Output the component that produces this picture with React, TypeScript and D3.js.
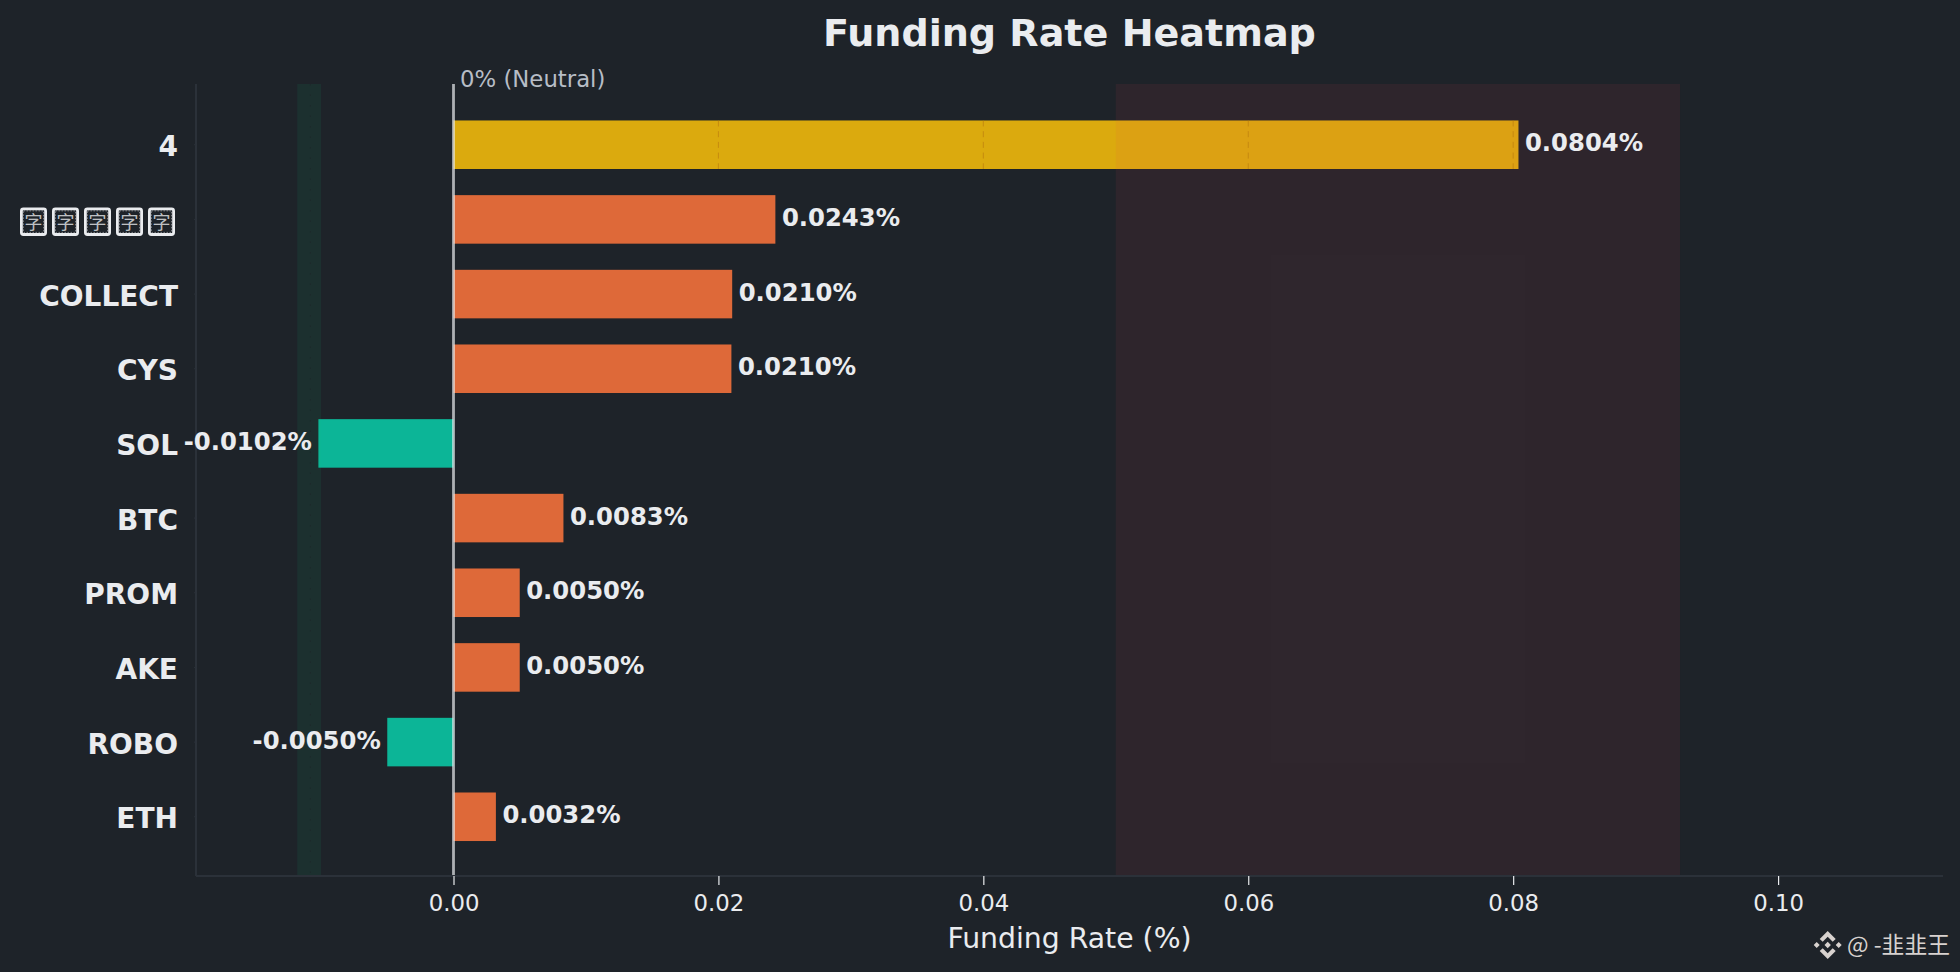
import { useEffect, useRef } from 'react';
import * as d3 from 'd3';

const symbols = ['4', '字字字字字', 'COLLECT', 'CYS', 'SOL', 'BTC', 'PROM', 'AKE', 'ROBO', 'ETH'];
const rates = [0.0804, 0.0243, 0.02104, 0.02098, -0.0102, 0.0083, 0.005, 0.005, -0.005, 0.0032];
const rateLabels = ['0.0804%', '0.0243%', '0.0210%', '0.0210%', '-0.0102%', '0.0083%', '0.0050%', '0.0050%', '-0.0050%', '0.0032%'];
const xTicks = [0, 0.02, 0.04, 0.06, 0.08, 0.1];
const gridOnBar = [0.02, 0.04, 0.06, 0.08];
const negativeBand = [-0.0118, -0.01];
const positiveBand = [0.05, 0.0926];
const negativeBandMark = -0.0108;
const xDomain = [-0.01944, 0.11245];

const WIDTH = 1960;
const HEIGHT = 972;
const BG = '#1e2329';
const TEXT = '#eaecef';
const SPINE = '#2b3139';
const FONT = '"DejaVu Sans", sans-serif';

const barColor = (v: number) => {
	if (v >= 0.05) return '#f0b90b';
	return v >= 0 ? '#f3713b' : '#0ac5a3';
};

export default function App() {
	const svgRef = useRef<SVGSVGElement>(null);

	useEffect(() => {
		if (!svgRef.current) return;

		const root = d3.select(svgRef.current);
		root.selectAll('*').remove();

		const margin = { top: 84, right: 17, bottom: 96, left: 196 };
		const right = WIDTH - margin.right;
		const bottom = HEIGHT - margin.bottom;

		root.append('rect').attr('width', WIDTH).attr('height', HEIGHT).attr('fill', BG);

		const x = d3.scaleLinear().domain(xDomain).range([margin.left, right]);
		const y = d3
			.scaleBand<string>()
			.domain(symbols)
			.range([margin.top + 1, bottom + 0.5])
			.paddingInner(0.35)
			.paddingOuter(0.475);

		// Bars sit under the threshold bands
		root
			.append('g')
			.selectAll('rect')
			.data(rates)
			.enter()
			.append('rect')
			.attr('x', (d) => x(Math.min(0, d)))
			.attr('width', (d) => Math.abs(x(d) - x(0)))
			.attr('y', (_, i) => y(symbols[i]) as number)
			.attr('height', y.bandwidth())
			.attr('fill', barColor)
			.attr('fill-opacity', 0.9);

		// Threshold bands
		[
			{ range: negativeBand, color: '#0ecb81' },
			{ range: positiveBand, color: '#f6465d' },
		].forEach(({ range, color }) => {
			root
				.append('rect')
				.attr('x', x(range[0]))
				.attr('width', x(range[1]) - x(range[0]))
				.attr('y', margin.top)
				.attr('height', bottom - margin.top)
				.attr('fill', color)
				.attr('fill-opacity', 0.08);
		});

		// Grid only shows on the top bar
		root
			.append('g')
			.selectAll('line')
			.data(gridOnBar)
			.enter()
			.append('line')
			.attr('x1', (d) => x(d))
			.attr('x2', (d) => x(d))
			.attr('y1', y(symbols[0]) as number)
			.attr('y2', (y(symbols[0]) as number) + y.bandwidth())
			.attr('stroke', '#b8780f')
			.attr('stroke-opacity', 0.6)
			.attr('stroke-width', 1)
			.attr('stroke-dasharray', '6,4.7');

		root
			.append('line')
			.attr('x1', x(negativeBandMark))
			.attr('x2', x(negativeBandMark))
			.attr('y1', margin.top)
			.attr('y2', bottom)
			.attr('stroke', BG)
			.attr('stroke-opacity', 0.5)
			.attr('stroke-width', 1)
			.attr('stroke-dasharray', '1.5,9');

		// Zero line
		root
			.append('line')
			.attr('x1', x(0))
			.attr('x2', x(0))
			.attr('y1', margin.top)
			.attr('y2', bottom)
			.attr('stroke', TEXT)
			.attr('stroke-opacity', 0.7)
			.attr('stroke-width', 2.8);

		root
			.append('text')
			.attr('x', x(0) + 6.5)
			.attr('y', 87)
			.attr('font-family', FONT)
			.attr('font-size', 22.8)
			.attr('fill', '#b7bdc6')
			.text('0% (Neutral)');

		// Axes
		const xAxis = root
			.append('g')
			.attr('transform', `translate(0,${bottom})`)
			.call(
				d3
					.axisBottom(x)
					.tickValues(xTicks)
					.tickSize(9)
					.tickPadding(10)
					.tickFormat((d) => d3.format('.2f')(d as number))
			);
		xAxis.select('.domain').attr('stroke', SPINE).attr('stroke-width', 2).attr('d', `M${margin.left},0H${right}`);
		xAxis.selectAll('.tick line').attr('stroke', TEXT).attr('stroke-width', 1.2);
		xAxis.selectAll('text').attr('font-family', FONT).attr('font-size', 22.8).attr('fill', TEXT);

		const yAxis = root
			.append('g')
			.attr('transform', `translate(${margin.left},0)`)
			.call(d3.axisLeft(y).tickSize(2).tickPadding(16));
		yAxis.select('.domain').attr('stroke', SPINE).attr('stroke-width', 2).attr('d', `M0,${margin.top}V${bottom}`);
		yAxis.selectAll('.tick line').attr('stroke', SPINE);
		yAxis
			.selectAll('text')
			.attr('y', 2.5)
			.attr('font-family', FONT)
			.attr('font-size', 28)
			.attr('font-weight', 700)
			.attr('fill', TEXT);

		// The second symbol came out as missing-glyph boxes in the original
		const tofu = yAxis.selectAll<SVGGElement, string>('.tick').filter((d) => d === symbols[1]);
		tofu.select('text').remove();
		d3.range(5).forEach((i) => {
			const bx = -176 + i * 32;
			tofu
				.append('rect')
				.attr('x', bx + 1.4)
				.attr('y', -10.5)
				.attr('width', 24.2)
				.attr('height', 25.6)
				.attr('rx', 2)
				.attr('fill', 'none')
				.attr('stroke', TEXT)
				.attr('stroke-width', 2.8);
			tofu
				.append('rect')
				.attr('x', bx + 3.5)
				.attr('y', -8.5)
				.attr('width', 20)
				.attr('height', 21.5)
				.attr('fill', 'none')
				.attr('stroke', TEXT)
				.attr('stroke-opacity', 0.45)
				.attr('stroke-width', 1)
				.attr('stroke-dasharray', '1.5,1.5');
			tofu
				.append('text')
				.attr('x', bx + 13.5)
				.attr('y', 9.5)
				.attr('text-anchor', 'middle')
				.attr('font-family', '"Noto Sans CJK SC"')
				.attr('font-size', 18)
				.attr('fill', TEXT)
				.attr('fill-opacity', 0.8)
				.text(symbols[1][i]);
		});

		// Value labels
		root
			.append('g')
			.selectAll('text')
			.data(rates)
			.enter()
			.append('text')
			.attr('x', (d) => (d >= 0 ? x(d) + 6.5 : x(d) - 6.5))
			.attr('y', (_, i) => (y(symbols[i]) as number) + y.bandwidth() / 2 + 6.5)
			.attr('text-anchor', (d) => (d >= 0 ? 'start' : 'end'))
			.attr('font-family', FONT)
			.attr('font-size', 24.3)
			.attr('font-weight', 700)
			.attr('fill', TEXT)
			.text((_, i) => rateLabels[i]);

		// Title and axis label
		root
			.append('text')
			.attr('x', (margin.left + right) / 2)
			.attr('y', 46)
			.attr('text-anchor', 'middle')
			.attr('font-family', FONT)
			.attr('font-size', 38.1)
			.attr('font-weight', 700)
			.attr('fill', TEXT)
			.text('Funding Rate Heatmap');

		root
			.append('text')
			.attr('x', (margin.left + right) / 2)
			.attr('y', 948)
			.attr('text-anchor', 'middle')
			.attr('font-family', FONT)
			.attr('font-size', 28.3)
			.attr('fill', TEXT)
			.text('Funding Rate (%)');

		// Watermark
		const mark = root.append('g').attr('transform', 'translate(1827.7,945)').attr('fill', '#d8d2cf');
		mark
			.append('path')
			.attr(
				'd',
				'M0,-14L8,-6L5,-3.2L0,-8.2L-5,-3.2L-8,-6Z M0,14L8,6L5,3.2L0,8.2L-5,3.2L-8,6Z M0,-3.2L3.2,0L0,3.2L-3.2,0Z M-11,-3L-8,0L-11,3L-14,0Z M11,-3L14,0L11,3L8,0Z'
			);
		root
			.append('text')
			.attr('x', 1847)
			.attr('y', 953)
			.attr('font-family', '"Noto Sans CJK SC"')
			.attr('font-size', 22.8)
			.attr('fill', '#d8d2cf')
			.text('@ -韭韭王');
	}, []);

	return (
		<svg
			ref={svgRef}
			width={WIDTH}
			height={HEIGHT}
			style={{ position: 'absolute', left: 0, top: 0, display: 'block' }}
		></svg>
	);
}
